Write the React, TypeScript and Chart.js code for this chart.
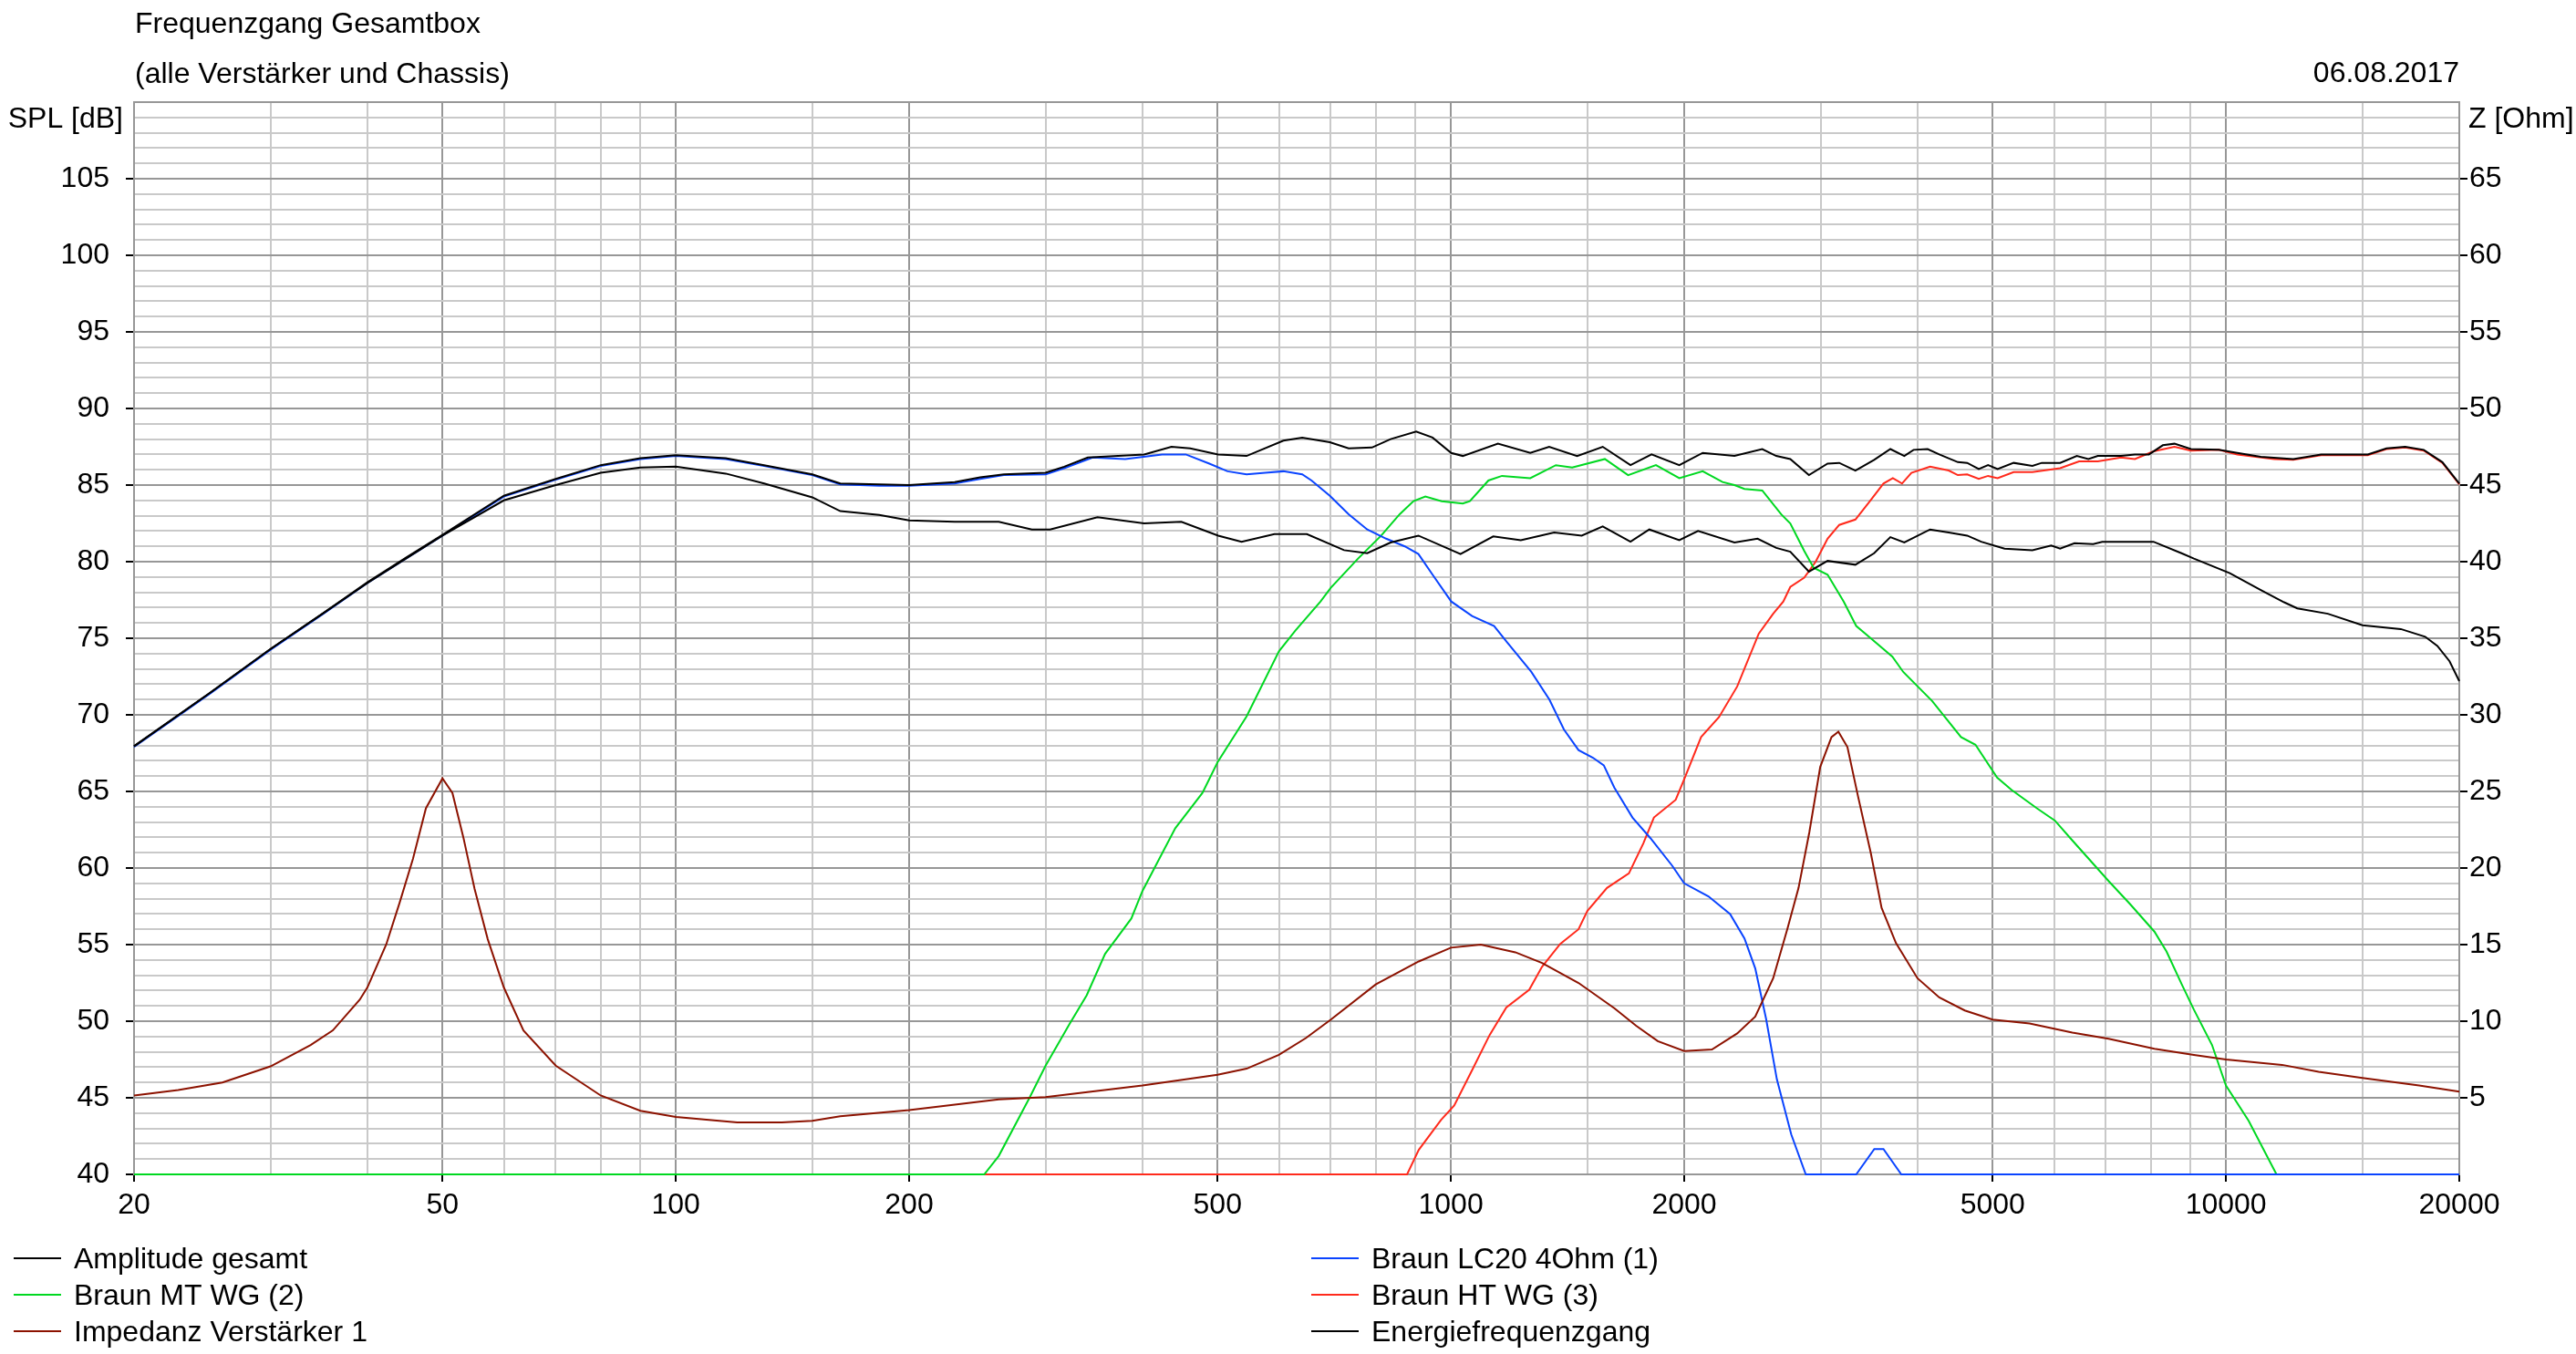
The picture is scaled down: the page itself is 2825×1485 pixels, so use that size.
import React, { useEffect, useRef } from 'react';
import { Chart, registerables } from 'chart.js';

Chart.register(...registerables);

// ---------------- texts ----------------
const TITLE = 'Frequenzgang Gesamtbox';
const SUBTITLE = '(alle Verstärker und Chassis)';
const DATE = '06.08.2017';
const Y_LEFT_TITLE = 'SPL [dB]';
const Y_RIGHT_TITLE = 'Z [Ohm]';

// ---------------- axes ----------------
const GRID_FREQS = [20, 30, 40, 50, 60, 70, 80, 90, 100, 150, 200, 300, 400, 500, 600, 700, 800, 900, 1000, 1500, 2000, 3000, 4000, 5000, 6000, 7000, 8000, 9000, 10000, 15000, 20000];
const LABELED_FREQS = [20, 50, 100, 200, 500, 1000, 2000, 5000, 10000, 20000];
const SPL_LABELS = [40, 45, 50, 55, 60, 65, 70, 75, 80, 85, 90, 95, 100, 105];
const Z_LABELS = [5, 10, 15, 20, 25, 30, 35, 40, 45, 50, 55, 60, 65];

// ---------------- data ----------------
// Amplitude gesamt
const AMP_F = [20, 25, 30, 35, 40, 45, 50, 60, 70, 80, 90, 100, 116, 130, 150, 163, 183, 200, 229, 247, 265, 300, 317, 340, 402, 436, 461, 501, 545, 608, 643, 698, 738, 791, 836, 902, 947, 1001, 1036, 1150, 1266, 1339, 1455, 1570, 1705, 1815, 1971, 2113, 2322, 2522, 2629, 2741, 2897, 3062, 3170, 3326, 3516, 3690, 3846, 3953, 4122, 4267, 4509, 4636, 4798, 4933, 5074, 5322, 5627, 5786, 6110, 6420, 6645, 6834, 7320, 7630, 7955, 8291, 8582, 9013, 9790, 10344, 11090, 12214, 13270, 15240, 16110, 17030, 17995, 19020, 20000];
const AMP_DB = [67.95, 71.4, 74.3, 76.6, 78.65, 80.3, 81.75, 84.3, 85.4, 86.3, 86.75, 86.95, 86.75, 86.3, 85.7, 85.1, 85.05, 85.0, 85.2, 85.5, 85.7, 85.8, 86.2, 86.8, 87.0, 87.5, 87.4, 87.0, 86.9, 87.9, 88.1, 87.8, 87.4, 87.45, 88.0, 88.5, 88.1, 87.1, 86.9, 87.7, 87.1, 87.5, 86.9, 87.5, 86.3, 87.0, 86.3, 87.1, 86.9, 87.35, 86.9, 86.7, 85.65, 86.4, 86.45, 85.95, 86.65, 87.35, 86.9, 87.3, 87.35, 87.0, 86.5, 86.45, 86.05, 86.3, 86.05, 86.45, 86.25, 86.45, 86.45, 86.9, 86.7, 86.9, 86.9, 87.0, 87.0, 87.6, 87.7, 87.35, 87.3, 87.1, 86.85, 86.7, 87.0, 87.0, 87.4, 87.5, 87.3, 86.5, 85.1];

// Energiefrequenzgang
const EN_F = [20, 25, 30, 35, 40, 45, 50, 60, 70, 80, 90, 100, 116, 130, 150, 163, 183, 200, 229, 261, 288, 304, 350, 402, 449, 501, 537, 592, 652, 728, 780, 836, 908, 1029, 1134, 1231, 1359, 1475, 1570, 1705, 1803, 1971, 2084, 2322, 2487, 2629, 2741, 2897, 3062, 3326, 3516, 3690, 3846, 4152, 4388, 4636, 4833, 5180, 5627, 5951, 6110, 6376, 6740, 6925, 8063, 8763, 9092, 10115, 11090, 11885, 12360, 13535, 15000, 16810, 18070, 18740, 19430, 20000];
const EN_DB = [67.95, 71.4, 74.3, 76.6, 78.6, 80.25, 81.7, 84.0, 85.0, 85.8, 86.15, 86.2, 85.75, 85.1, 84.2, 83.3, 83.05, 82.7, 82.6, 82.6, 82.1, 82.1, 82.9, 82.5, 82.6, 81.7, 81.3, 81.8, 81.8, 80.75, 80.55, 81.25, 81.7, 80.5, 81.65, 81.4, 81.9, 81.7, 82.3, 81.3, 82.1, 81.4, 82.0, 81.25, 81.5, 80.9, 80.65, 79.35, 80.05, 79.8, 80.55, 81.6, 81.25, 82.1, 81.9, 81.7, 81.3, 80.85, 80.75, 81.05, 80.85, 81.2, 81.15, 81.3, 81.3, 80.55, 80.2, 79.25, 78.15, 77.35, 76.95, 76.6, 75.85, 75.6, 75.1, 74.5, 73.5, 72.2];

// Braun LC20 4Ohm (1)
const LC20_F = [20, 25, 30, 35, 40, 45, 50, 60, 70, 80, 90, 100, 116, 130, 150, 163, 183, 200, 229, 247, 265, 300, 317, 345, 380, 424, 455, 488, 515, 545, 576, 608, 643, 661, 698, 738, 780, 825, 872, 908, 947, 1001, 1065, 1137, 1179, 1270, 1340, 1399, 1461, 1525, 1575, 1625, 1715, 1809, 1930, 2000, 2149, 2292, 2392, 2470, 2551, 2634, 2749, 2870, 3334, 3518, 3615, 3812, 20000];
const LC20_DB = [67.9, 71.35, 74.25, 76.55, 78.6, 80.25, 81.7, 84.25, 85.35, 86.25, 86.7, 86.9, 86.7, 86.25, 85.65, 85.05, 84.95, 84.95, 85.1, 85.4, 85.65, 85.7, 86.1, 86.8, 86.7, 87.0, 87.0, 86.4, 85.9, 85.7, 85.8, 85.9, 85.7, 85.3, 84.3, 83.1, 82.1, 81.5, 81.0, 80.5, 79.15, 77.4, 76.45, 75.8, 74.8, 72.8, 71.0, 69.05, 67.7, 67.2, 66.7, 65.25, 63.3, 61.95, 60.15, 59.0, 58.15, 57.0, 55.4, 53.45, 50.15, 46.2, 42.6, 40, 40, 41.65, 41.65, 40, 40];

// Braun MT WG (2)
const MT_F = [20, 250, 261, 286, 300, 322, 339, 358, 387, 400, 441, 478, 500, 545, 600, 630, 679, 700, 759, 813, 859, 895, 927, 973, 1036, 1058, 1118, 1164, 1266, 1366, 1434, 1580, 1693, 1839, 1971, 2113, 2241, 2322, 2392, 2522, 2667, 2741, 2857, 2938, 3062, 3212, 3334, 3481, 3712, 3834, 4178, 4552, 4751, 5067, 5288, 5703, 6015, 6336, 7056, 7520, 8085, 8381, 8770, 9092, 9594, 10000, 10697, 11620, 20000];
const MT_DB = [40, 40, 41.2, 45.0, 47.1, 49.8, 51.7, 54.4, 56.7, 58.5, 62.6, 64.9, 66.9, 69.9, 74.15, 75.5, 77.4, 78.3, 80.2, 81.7, 83.1, 83.95, 84.25, 83.95, 83.8, 83.95, 85.3, 85.6, 85.45, 86.3, 86.15, 86.7, 85.65, 86.3, 85.45, 85.9, 85.2, 85.0, 84.75, 84.65, 83.1, 82.5, 80.7, 79.6, 79.15, 77.4, 75.8, 75.0, 73.8, 72.8, 70.9, 68.55, 68.05, 65.9, 65.1, 63.9, 63.1, 61.8, 59.15, 57.65, 55.85, 54.55, 52.4, 50.75, 48.45, 45.8, 43.5, 40, 40];

// Braun HT WG (3)
const HT_F = [20, 878, 909, 971, 1010, 1065, 1122, 1179, 1262, 1311, 1384, 1461, 1500, 1590, 1697, 1771, 1828, 1950, 2000, 2103, 2218, 2341, 2496, 2605, 2685, 2741, 2857, 2956, 3062, 3170, 3326, 3467, 3615, 3717, 3820, 3928, 4152, 4388, 4509, 4636, 4798, 4933, 5074, 5322, 5627, 6110, 6464, 6834, 7320, 7630, 8063, 8582, 9013, 9790, 10344, 11540, 12214, 13270, 15240, 16110, 17030, 17995, 19020, 20000];
const HT_DB = [40, 40, 41.6, 43.55, 44.5, 46.8, 49.1, 50.9, 52.05, 53.55, 55.05, 56.0, 57.2, 58.7, 59.65, 61.6, 63.3, 64.45, 65.8, 68.55, 69.85, 71.85, 75.3, 76.6, 77.4, 78.35, 78.95, 80.0, 81.5, 82.4, 82.75, 83.9, 85.1, 85.45, 85.1, 85.8, 86.2, 85.95, 85.65, 85.7, 85.4, 85.6, 85.45, 85.85, 85.85, 86.1, 86.55, 86.55, 86.8, 86.7, 87.2, 87.5, 87.25, 87.3, 87.0, 86.7, 86.65, 86.95, 86.95, 87.35, 87.45, 87.25, 86.45, 85.05];

// Impedanz Verstärker 1 (Ohm, right axis)
const IMP_F = [20, 22.8, 26, 30, 33.8, 36.1, 39.1, 40, 42.3, 44, 45.8, 47.6, 50, 51.5, 53.2, 55, 57.2, 60, 63.6, 70, 80, 90, 100, 120, 137, 150, 163, 200, 261, 300, 400, 500, 545, 600, 650, 700, 800, 909, 1000, 1093, 1211, 1311, 1461, 1625, 1734, 1849, 2000, 2172, 2341, 2470, 2605, 2720, 2809, 2901, 2996, 3098, 3162, 3248, 3353, 3481, 3595, 3752, 4000, 4267, 4603, 5000, 5580, 6336, 7056, 8085, 9092, 10000, 11815, 13170, 15000, 17750, 20000];
const IMP_OHM = [5.15, 5.5, 6.0, 7.05, 8.45, 9.4, 11.4, 12.2, 15.0, 17.7, 20.6, 23.9, 25.85, 24.9, 22.0, 18.65, 15.35, 12.2, 9.4, 7.1, 5.15, 4.15, 3.75, 3.4, 3.4, 3.5, 3.8, 4.2, 4.9, 5.05, 5.8, 6.5, 6.9, 7.8, 8.9, 10.1, 12.4, 13.9, 14.8, 15.0, 14.5, 13.8, 12.5, 10.85, 9.7, 8.7, 8.05, 8.15, 9.2, 10.3, 12.8, 16.1, 18.7, 22.35, 26.6, 28.55, 28.9, 27.9, 24.65, 21.0, 17.4, 15.1, 12.8, 11.55, 10.7, 10.1, 9.85, 9.25, 8.85, 8.2, 7.8, 7.5, 7.15, 6.7, 6.3, 5.8, 5.4];

// ---------------- styles ----------------
const W = 2825;
const H = 1485;
const FONT = "'Liberation Sans', Arial, sans-serif";
const FS = 32;
const MAJOR = '#979797';
const MINOR = '#c9c9c9';
const C_BLACK = '#000000';
const C_GREEN = '#00d821';
const C_DARKRED = '#8c1200';
const C_BLUE = '#0a44ff';
const C_RED = '#ff2a1c';

const PLOT_LEFT = 147;
const PLOT_RIGHT = 2697;
const PLOT_TOP = 112;
const PLOT_BOTTOM = 1288;

const LEGEND = [
  { label: 'Amplitude gesamt', color: C_BLACK, col: 0, row: 0 },
  { label: 'Braun MT WG (2)', color: C_GREEN, col: 0, row: 1 },
  { label: 'Impedanz Verstärker 1', color: C_DARKRED, col: 0, row: 2 },
  { label: 'Braun LC20 4Ohm (1)', color: C_BLUE, col: 1, row: 0 },
  { label: 'Braun HT WG (3)', color: C_RED, col: 1, row: 1 },
  { label: 'Energiefrequenzgang', color: C_BLACK, col: 1, row: 2 },
];

const pts = (f: number[], v: number[]) => f.map((x, i) => ({ x, y: v[i] }));

const textPlugin = {
  id: 'extraTexts',
  afterDraw(chart: any) {
    const ctx = chart.ctx as CanvasRenderingContext2D;
    ctx.save();
    ctx.fillStyle = '#000';
    ctx.font = `${FS}px ${FONT}`;
    ctx.textBaseline = 'alphabetic';
    ctx.textAlign = 'left';
    ctx.fillText(TITLE, 148, 36);
    ctx.fillText(SUBTITLE, 148, 91);
    ctx.textAlign = 'right';
    ctx.fillText(DATE, PLOT_RIGHT, 90);
    ctx.fillText(Y_LEFT_TITLE, 135, 140);
    ctx.textAlign = 'left';
    ctx.fillText(Y_RIGHT_TITLE, 2707, 140);

    const colX = [15, 1438];
    const rowY = [1380, 1420, 1460];
    LEGEND.forEach((e) => {
      const x0 = colX[e.col];
      const y = rowY[e.row];
      ctx.strokeStyle = e.color;
      ctx.lineWidth = 2;
      ctx.beginPath();
      ctx.moveTo(x0, y);
      ctx.lineTo(x0 + 52, y);
      ctx.stroke();
      ctx.fillStyle = '#000';
      ctx.textAlign = 'left';
      ctx.fillText(e.label, x0 + 66, y + 11);
    });
    ctx.restore();
  },
};

export default function App() {
  const ref = useRef<HTMLCanvasElement | null>(null);

  useEffect(() => {
    if (!ref.current) return;
    const ds = (label: string, f: number[], v: number[], color: string, order: number, axis = 'y') => ({
      label,
      data: pts(f, v),
      borderColor: color,
      backgroundColor: color,
      borderWidth: 2,
      pointRadius: 0,
      pointHoverRadius: 0,
      tension: 0,
      fill: false,
      clip: 3,
      order,
      yAxisID: axis,
    });

    const chart = new Chart(ref.current, {
      type: 'line',
      data: {
        datasets: [
          ds('Amplitude gesamt', AMP_F, AMP_DB, C_BLACK, 0),
          ds('Energiefrequenzgang', EN_F, EN_DB, C_BLACK, 1),
          ds('Impedanz Verstärker 1', IMP_F, IMP_OHM, C_DARKRED, 2, 'y2'),
          ds('Braun LC20 4Ohm (1)', LC20_F, LC20_DB, C_BLUE, 3),
          ds('Braun MT WG (2)', MT_F, MT_DB, C_GREEN, 4),
          ds('Braun HT WG (3)', HT_F, HT_DB, C_RED, 5),
        ] as any,
      },
      options: {
        animation: false,
        responsive: false,
        maintainAspectRatio: false,
        devicePixelRatio: 1,
        events: [],
        layout: { padding: { top: PLOT_TOP, left: 0, right: 0, bottom: 0 } },
        plugins: {
          legend: { display: false },
          tooltip: { enabled: false },
          title: { display: false },
        },
        scales: {
          x: {
            type: 'logarithmic',
            min: 20,
            max: 20000,
            position: 'bottom',
            afterBuildTicks: (s: any) => {
              s.ticks = GRID_FREQS.map((v) => ({ value: v }));
            },
            afterFit: (s: any) => {
              s.height = H - PLOT_BOTTOM;
            },
            ticks: {
              autoSkip: false,
              maxRotation: 0,
              minRotation: 0,
              padding: 7,
              color: '#000',
              font: { family: FONT, size: FS },
              callback: (v: any) => (LABELED_FREQS.includes(Number(v)) ? String(v) : ''),
            },
            grid: {
              lineWidth: 2,
              color: (c: any) => (c.tick && LABELED_FREQS.includes(c.tick.value) ? MAJOR : MINOR),
              tickLength: 8,
              tickWidth: 2,
              tickColor: (c: any) => (c.tick && LABELED_FREQS.includes(c.tick.value) ? '#000' : 'rgba(0,0,0,0)'),
            },
            border: { display: true, color: MAJOR, width: 2 },
          },
          y: {
            type: 'linear',
            position: 'left',
            min: 40,
            max: 110,
            afterFit: (s: any) => {
              s.width = PLOT_LEFT;
            },
            ticks: {
              stepSize: 1,
              maxTicksLimit: 500,
              autoSkip: false,
              padding: 18,
              color: '#000',
              font: { family: FONT, size: FS },
              callback: (v: any) => (SPL_LABELS.includes(Math.round(Number(v))) ? String(Math.round(Number(v))) : ''),
            },
            grid: {
              lineWidth: 2,
              color: (c: any) => (c.tick && Math.round(c.tick.value) % 5 === 0 ? MAJOR : MINOR),
              tickLength: 9,
              tickWidth: 2,
              tickColor: (c: any) => (c.tick && SPL_LABELS.includes(Math.round(c.tick.value)) ? '#000' : 'rgba(0,0,0,0)'),
            },
            border: { display: true, color: MAJOR, width: 2 },
          },
          y2: {
            type: 'linear',
            position: 'right',
            min: 0,
            max: 70,
            afterFit: (s: any) => {
              s.width = W - PLOT_RIGHT;
            },
            ticks: {
              stepSize: 1,
              maxTicksLimit: 500,
              autoSkip: false,
              padding: 2,
              color: '#000',
              font: { family: FONT, size: FS },
              callback: (v: any) => (Z_LABELS.includes(Math.round(Number(v))) ? String(Math.round(Number(v))) : ''),
            },
            grid: {
              drawOnChartArea: false,
              lineWidth: 2,
              tickLength: 9,
              tickWidth: 2,
              tickColor: (c: any) => (c.tick && Z_LABELS.includes(Math.round(c.tick.value)) ? '#000' : 'rgba(0,0,0,0)'),
            },
            border: { display: true, color: MAJOR, width: 2 },
          },
        },
      } as any,
      plugins: [textPlugin],
    });
    return () => chart.destroy();
  }, []);

  return (
    <div style={{ position: 'fixed', left: 0, top: 0, width: W, height: H, background: '#fff' }}>
      <canvas ref={ref} width={W} height={H} style={{ width: W, height: H, display: 'block' }} />
    </div>
  );
}
